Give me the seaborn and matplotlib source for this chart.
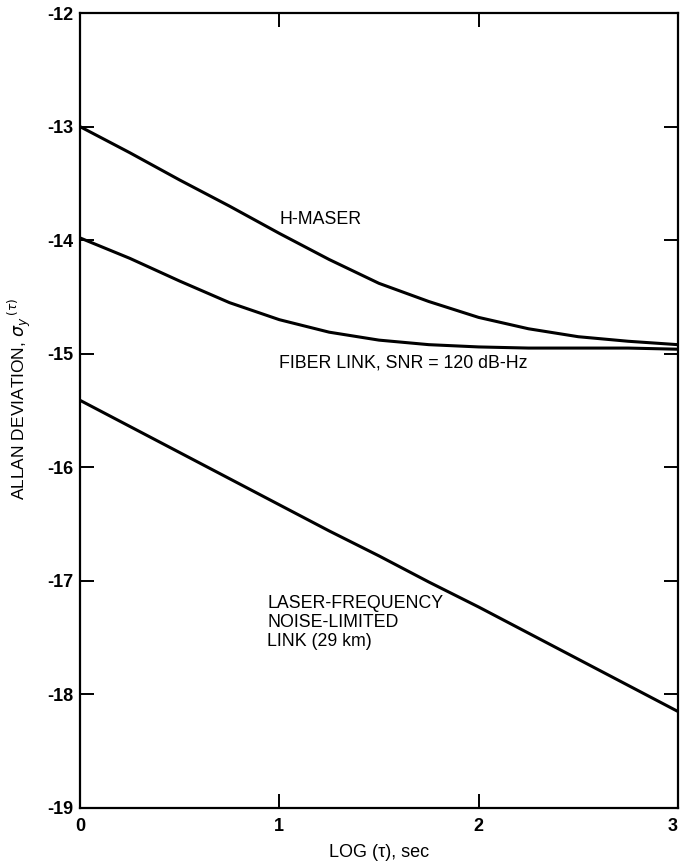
import matplotlib
matplotlib.use("Agg")
import matplotlib.pyplot as plt
import seaborn as sns
import pandas as pd

# values
log_tau = [0, 0.25, 0.5, 0.75, 1.0, 1.25, 1.5, 1.75, 2.0, 2.25, 2.5, 2.75, 3.0]
h_maser = [-13.00, -13.23, -13.47, -13.70, -13.94, -14.17, -14.38, -14.54, -14.68, -14.78, -14.85, -14.89, -14.92]
fiber_link = [-13.98, -14.16, -14.36, -14.55, -14.70, -14.81, -14.88, -14.92, -14.94, -14.95, -14.95, -14.95, -14.96]
laser_link = [-15.41, -15.64, -15.87, -16.10, -16.33, -16.56, -16.78, -17.01, -17.23, -17.46, -17.69, -17.92, -18.15]

curves = pd.DataFrame({
    "log_tau": log_tau * 3,
    "sigma": h_maser + fiber_link + laser_link,
    "curve": ["H-MASER"] * 13 + ["FIBER"] * 13 + ["LASER"] * 13,
})

sns.set_style("ticks")
plt.rcParams['font.family'] = ['Liberation Sans', 'DejaVu Sans']
plt.rcParams['axes.unicode_minus'] = False
plt.rcParams['text.color'] = 'black'
plt.rcParams['axes.labelcolor'] = 'black'
plt.rcParams['xtick.color'] = 'black'
plt.rcParams['ytick.color'] = 'black'

fig = plt.figure(figsize=(6.81, 8.65), dpi=100)
ax = fig.add_axes([0.1175, 0.0659, 0.878, 0.919])

sns.lineplot(data=curves, x="log_tau", y="sigma", units="curve", estimator=None,
             color="black", linewidth=2.2, ax=ax)

ax.set_xlim(0, 3)
ax.set_ylim(-19, -12)
ax.set_xticks([0, 1, 2, 3])
ax.set_yticks(range(-19, -11))

for s in ax.spines.values():
    s.set_linewidth(1.6)
    s.set_color("black")

ax.tick_params(direction="in", length=10, width=1.4, top=True, right=True,
               labelsize=13)
ax.tick_params(axis="y", pad=5)
ax.tick_params(axis="x", pad=7)
for lab in ax.get_xticklabels() + ax.get_yticklabels():
    lab.set_fontweight("bold")
# last x label sits right at the figure edge, keep it inside
ax.get_xticklabels()[-1].set_horizontalalignment("right")

ax.set_xlabel("LOG (τ), sec", fontsize=13, labelpad=7)
ax.set_ylabel(r"ALLAN DEVIATION, $\sigma_y\,^{(\tau)}$", fontsize=12.5)
ax.yaxis.set_label_coords(-0.078, 0.515)

ax.text(1.0, -13.82, "H-MASER", fontsize=12.8, va="center", ha="left")
ax.text(1.0, -15.08, "FIBER LINK, SNR = 120 dB-Hz", fontsize=12.8, va="center", ha="left")
ax.text(0.94, -17.37, "LASER-FREQUENCY\nNOISE-LIMITED\nLINK (29 km)", fontsize=12.8,
        va="center", ha="left", linespacing=1.15)

fig.savefig("out.png", dpi=100)
